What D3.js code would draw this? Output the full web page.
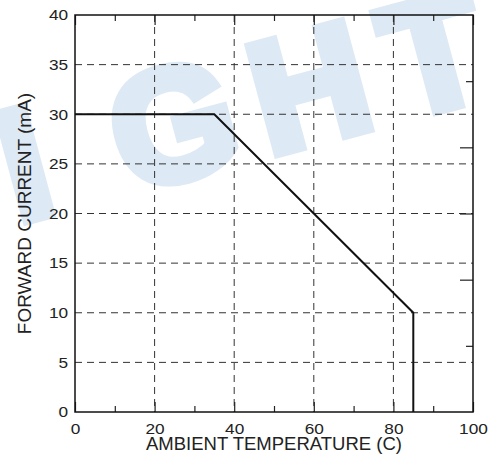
<!DOCTYPE html>
<html>
<head>
<meta charset="utf-8">
<script src="https://cdn.jsdelivr.net/npm/d3@7"></script>
<style>
  html, body { margin: 0; padding: 0; background: #fff; }
  svg { display: block; }
</style>
</head>
<body>
<svg id="chart" width="490" height="459"></svg>
<script>
// ---- data ----
const tempTicks = [0, 20, 40, 60, 80, 100];
const tempMinorTicks = [10, 30, 50, 70, 90];
const currentTicks = [0, 5, 10, 15, 20, 25, 30, 35, 40];
const rightAxisTicks = [6.667, 13.333, 20, 26.667, 33.333];
const curveTemp = [0, 35, 85, 85];
const curveCurrent = [30, 30, 10, 0];
const xTitle = "AMBIENT TEMPERATURE (C)";
const yTitle = "FORWARD CURRENT (mA)";
const watermarkLetters = ["I", "G", "H", "T"];

// ---- layout ----
const W = 490, H = 459;
const m = { left: 75, right: 17, top: 15, bottom: 47 };
const pw = W - m.left - m.right, ph = H - m.top - m.bottom;

const svg = d3.select("#chart");
const font = "'Liberation Sans', Arial, Helvetica, sans-serif";

// watermark (decorative), letters spaced along a tilted baseline
const wmOffsets = [40, 194, 335, 464];
svg.append("g")
  .attr("transform", "translate(0,227) rotate(-15)")
  .selectAll("text").data(watermarkLetters).join("text")
  .attr("x", (d, i) => wmOffsets[i])
  .attr("y", 0)
  .attr("text-anchor", "middle")
  .attr("font-family", "'Liberation Sans Narrow', 'Liberation Sans', Arial, sans-serif")
  .attr("font-weight", "bold")
  .attr("font-size", 158)
  .attr("fill", "#dde9f4")
  .attr("stroke", "#dde9f4")
  .attr("stroke-width", 11)
  .attr("stroke-linejoin", "miter")
  .text(d => d);

const g = svg.append("g").attr("transform", `translate(${m.left},${m.top})`);

const x = d3.scaleLinear().domain([0, 100]).range([0, pw]);
const y = d3.scaleLinear().domain([0, 40]).range([ph, 0]);

// grid
g.append("g").selectAll("line.v").data(tempTicks.slice(1, -1)).join("line")
  .attr("x1", d => x(d)).attr("x2", d => x(d))
  .attr("y1", 0).attr("y2", ph)
  .attr("stroke", "#333").attr("stroke-width", 1)
  .attr("stroke-dasharray", "7,5");
g.append("g").selectAll("line.h").data(currentTicks.slice(1, -1)).join("line")
  .attr("x1", 0).attr("x2", pw)
  .attr("y1", d => y(d)).attr("y2", d => y(d))
  .attr("stroke", "#333").attr("stroke-width", 1)
  .attr("stroke-dasharray", "7,5");

// inward ticks top/bottom
const tickStyle = sel => sel.call(s => s.select(".domain").remove())
  .call(s => s.selectAll(".tick line").attr("stroke", "#222").attr("stroke-width", 1.2))
  .call(s => s.selectAll("text").remove());
g.append("g").attr("transform", `translate(0,${ph})`)
  .call(d3.axisBottom(x).tickValues(tempTicks).tickSizeInner(-10).tickSizeOuter(0)).call(tickStyle);
g.append("g").attr("transform", `translate(0,${ph})`)
  .call(d3.axisBottom(x).tickValues(tempMinorTicks).tickSizeInner(-6).tickSizeOuter(0)).call(tickStyle);
g.append("g")
  .call(d3.axisTop(x).tickValues(tempTicks).tickSizeInner(-10).tickSizeOuter(0)).call(tickStyle);
g.append("g")
  .call(d3.axisTop(x).tickValues(tempMinorTicks).tickSizeInner(-6).tickSizeOuter(0)).call(tickStyle);
// right axis inward ticks
g.append("g").attr("transform", `translate(${pw},0)`)
  .call(d3.axisRight(y).tickValues(rightAxisTicks).tickSizeInner(-12).tickSizeOuter(0)).call(tickStyle)
  .call(s => s.selectAll(".tick line").attr("x2", (d, i) => (i === 0 || i === 4) ? -7 : -13));

// frame
g.append("rect").attr("x", 0).attr("y", 0).attr("width", pw).attr("height", ph)
  .attr("fill", "none").attr("stroke", "#111").attr("stroke-width", 1.5);

// labelled axes
const labelStyle = sel => sel.call(s => s.select(".domain").remove())
  .call(s => s.selectAll(".tick line").remove())
  .call(s => s.selectAll("text")
    .attr("font-family", font).attr("font-size", 15).attr("fill", "#222")
    .attr("transform", "scale(1.15,1)"));
g.append("g").attr("transform", `translate(0,${ph})`)
  .call(d3.axisBottom(x).tickValues(tempTicks).tickSize(0).tickPadding(11.5)).call(labelStyle);
g.append("g")
  .call(d3.axisLeft(y).tickValues(currentTicks).tickSize(0).tickPadding(6)).call(labelStyle);

// curve
const line = d3.line().x(d => x(d[0])).y(d => y(d[1]));
g.append("path")
  .datum(curveTemp.map((t, i) => [t, curveCurrent[i]]))
  .attr("d", line).attr("fill", "none")
  .attr("stroke", "#111").attr("stroke-width", 2);

// titles
svg.append("text")
  .attr("x", m.left + pw / 2).attr("y", 450)
  .attr("text-anchor", "middle")
  .attr("font-family", font).attr("font-size", 18.5).attr("fill", "#222")
  .text(xTitle);
svg.append("text")
  .attr("transform", `translate(30.5,${m.top + ph / 2}) rotate(-90)`)
  .attr("text-anchor", "middle")
  .attr("font-family", font).attr("font-size", 19).attr("fill", "#222")
  .text(yTitle);
</script>
</body>
</html>
